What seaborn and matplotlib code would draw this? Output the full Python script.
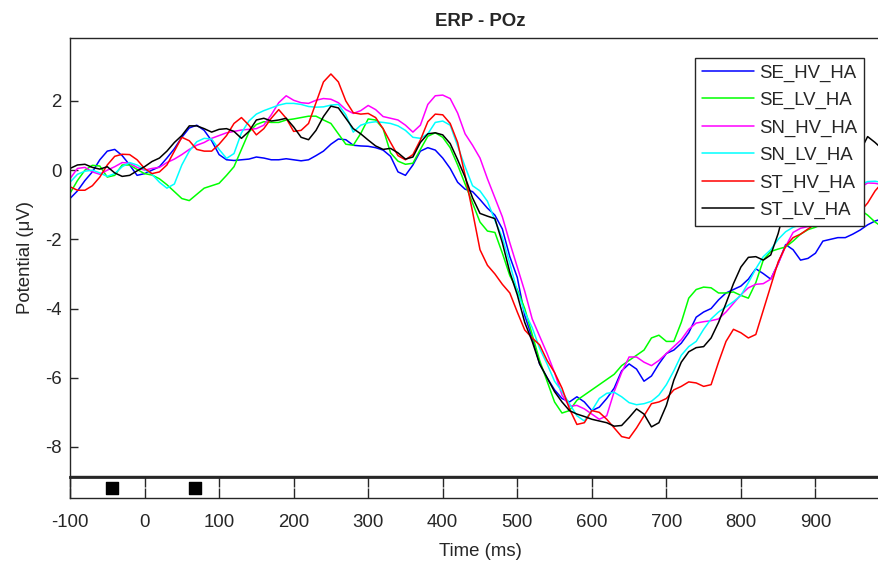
import pandas as pd
import matplotlib
matplotlib.use("Agg")
import matplotlib.pyplot as plt
import seaborn as sns

# time axis (ms), one sample every 10 ms
time_ms = list(range(-100, 1001, 10))

se_hv_ha = [-0.82, -0.60, -0.30, -0.05, 0.30, 0.55, 0.60, 0.42, 0.15, -0.15,
            -0.10, 0.00, 0.10, 0.35, 0.62, 0.95, 1.22, 1.30, 1.15, 0.85,
            0.45, 0.30, 0.28, 0.30, 0.32, 0.38, 0.35, 0.30, 0.30, 0.33,
            0.30, 0.27, 0.30, 0.42, 0.55, 0.75, 0.90, 0.88, 0.72, 0.70,
            0.69, 0.65, 0.58, 0.40, -0.05, -0.15, 0.15, 0.55, 0.65, 0.58,
            0.35, 0.05, -0.35, -0.55, -0.62, -0.85, -1.10, -1.30, -1.70, -2.50,
            -3.10, -4.20, -4.85, -5.60, -6.00, -6.35, -6.60, -6.70, -6.55, -6.70,
            -6.95, -6.85, -6.60, -6.30, -5.80, -5.60, -5.75, -6.10, -5.95, -5.60,
            -5.30, -5.20, -5.00, -4.70, -4.25, -4.10, -4.00, -3.75, -3.55, -3.45,
            -3.35, -3.15, -2.85, -2.99, -3.15, -2.70, -2.15, -2.30, -2.60, -2.55,
            -2.40, -2.05, -2.00, -1.95, -1.95, -1.85, -1.73, -1.58, -1.47, -1.40,
            -1.35]

se_lv_ha = [-0.67, -0.30, 0.00, 0.14, 0.12, -0.20, -0.15, 0.15, 0.15, 0.02,
            -0.10, -0.14, -0.25, -0.42, -0.62, -0.82, -0.88, -0.70, -0.52, -0.45,
            -0.38, -0.15, 0.10, 0.60, 1.10, 1.32, 1.40, 1.38, 1.38, 1.45,
            1.48, 1.52, 1.56, 1.56, 1.45, 1.35, 1.05, 0.75, 0.72, 1.06,
            1.48, 1.45, 1.20, 0.50, 0.26, 0.17, 0.20, 0.60, 0.98, 1.08,
            0.95, 0.65, 0.15, -0.40, -0.95, -1.50, -1.76, -1.80, -2.40, -3.05,
            -3.45, -4.00, -4.75, -5.50, -6.10, -6.70, -7.02, -6.95, -6.65, -6.50,
            -6.35, -6.20, -6.05, -5.90, -5.65, -5.50, -5.35, -5.20, -4.85, -4.77,
            -4.95, -4.95, -4.40, -3.70, -3.45, -3.38, -3.40, -3.55, -3.55, -3.52,
            -3.62, -3.70, -3.25, -2.60, -2.35, -2.28, -2.22, -2.05, -1.85, -1.72,
            -1.65, -1.55, -1.50, -1.45, -1.40, -1.30, -1.15, -1.30, -1.50, -1.65,
            -1.75]

sn_hv_ha = [-0.25, 0.05, 0.08, -0.05, -0.12, 0.00, 0.10, 0.22, 0.20, 0.08,
            0.00, 0.05, 0.08, 0.22, 0.32, 0.45, 0.60, 0.72, 0.80, 0.92,
            1.00, 1.08, 1.12, 1.16, 1.18, 1.20, 1.30, 1.60, 1.95, 2.15,
            2.02, 1.95, 1.93, 2.02, 2.07, 2.05, 1.95, 1.75, 1.64, 1.72,
            1.87, 1.75, 1.55, 1.50, 1.45, 1.30, 1.10, 1.30, 1.90, 2.15,
            2.17, 2.07, 1.65, 1.05, 0.72, 0.35, -0.25, -0.80, -1.35, -2.10,
            -2.80, -3.50, -4.30, -4.80, -5.30, -5.85, -6.50, -6.82, -6.80, -6.90,
            -7.05, -7.20, -7.10, -6.40, -5.85, -5.40, -5.40, -5.55, -5.65, -5.50,
            -5.30, -5.10, -4.90, -4.60, -4.42, -4.38, -4.35, -4.30, -4.10, -3.85,
            -3.60, -3.40, -3.30, -3.28, -3.15, -2.70, -2.20, -1.80, -1.68, -1.63,
            -1.58, -1.54, -1.50, -1.35, -1.15, -0.80, -0.50, -0.37, -0.38, -0.42,
            -0.45]

sn_lv_ha = [-0.35, -0.12, -0.03, 0.00, -0.08, -0.18, -0.10, 0.10, 0.22, 0.15,
            0.02, -0.12, -0.35, -0.52, -0.40, 0.15, 0.55, 0.82, 0.92, 0.90,
            0.60, 0.34, 0.48, 1.08, 1.42, 1.62, 1.72, 1.80, 1.88, 1.93,
            1.93, 1.90, 1.84, 1.82, 1.83, 1.88, 1.90, 1.60, 1.10, 1.30,
            1.37, 1.40, 1.38, 1.35, 1.28, 1.15, 0.95, 0.92, 1.05, 1.38,
            1.42, 1.30, 0.70, 0.10, -0.45, -0.60, -0.90, -1.45, -1.95, -2.70,
            -3.50, -4.10, -4.55, -5.15, -5.60, -6.10, -6.40, -6.75, -7.10, -7.25,
            -6.95, -6.60, -6.45, -6.42, -6.55, -6.72, -6.78, -6.75, -6.68, -6.50,
            -6.20, -5.80, -5.35, -5.10, -4.95, -4.60, -4.30, -4.10, -3.95, -3.80,
            -3.62, -3.25, -2.85, -2.50, -2.30, -2.00, -1.78, -1.65, -1.58, -1.52,
            -1.47, -1.42, -1.30, -1.15, -0.95, -0.65, -0.42, -0.33, -0.32, -0.36,
            -0.40]

st_hv_ha = [-0.48, -0.58, -0.58, -0.45, -0.20, 0.15, 0.40, 0.46, 0.45, 0.30,
            0.05, -0.10, -0.05, 0.15, 0.55, 0.95, 0.85, 0.60, 0.55, 0.55,
            0.75, 1.00, 1.35, 1.52, 1.30, 1.02, 1.20, 1.50, 1.75, 1.50,
            1.12, 1.15, 1.35, 1.95, 2.55, 2.78, 2.55, 2.00, 1.66, 1.62,
            1.64, 1.52, 1.20, 0.80, 0.42, 0.30, 0.45, 0.87, 1.40, 1.62,
            1.60, 1.35, 0.80, -0.15, -1.20, -2.30, -2.75, -3.00, -3.30, -3.55,
            -4.10, -4.62, -4.85, -5.05, -5.50, -5.85, -6.30, -6.90, -7.35, -7.30,
            -6.95, -7.00, -7.20, -7.45, -7.70, -7.75, -7.45, -7.10, -6.75, -6.70,
            -6.60, -6.35, -6.25, -6.12, -6.15, -6.25, -6.20, -5.55, -4.95, -4.60,
            -4.70, -4.85, -4.75, -4.05, -3.35, -2.65, -2.20, -1.95, -1.85, -1.70,
            -1.55, -1.50, -1.42, -1.40, -1.35, -1.30, -1.20, -0.95, -0.60, -0.35,
            -0.20]

st_lv_ha = [0.05, 0.15, 0.17, 0.08, 0.03, 0.10, -0.08, -0.18, -0.15, -0.02,
            0.10, 0.25, 0.35, 0.55, 0.80, 1.00, 1.28, 1.28, 1.20, 1.10,
            1.18, 1.20, 1.12, 0.92, 1.12, 1.45, 1.50, 1.42, 1.45, 1.50,
            1.25, 0.95, 0.88, 1.15, 1.55, 1.85, 1.80, 1.50, 1.20, 1.05,
            0.87, 0.70, 0.60, 0.63, 0.50, 0.32, 0.38, 0.80, 1.05, 1.08,
            1.02, 0.77, 0.30, -0.20, -0.80, -1.25, -1.33, -1.40, -2.10, -2.95,
            -3.60, -4.40, -4.95, -5.60, -6.00, -6.40, -6.70, -6.95, -7.05, -7.12,
            -7.20, -7.25, -7.30, -7.40, -7.38, -7.15, -6.90, -7.05, -7.42, -7.30,
            -6.80, -6.07, -5.55, -5.25, -5.13, -5.10, -4.85, -4.40, -3.85, -3.28,
            -2.80, -2.52, -2.50, -2.60, -2.45, -1.83, -1.00, -0.60, -0.40, -0.25,
            -0.10, 0.00, 0.10, 0.15, 0.25, 0.40, 0.55, 0.97, 0.80, 0.60,
            0.35]

conditions = ["SE_HV_HA", "SE_LV_HA", "SN_HV_HA", "SN_LV_HA", "ST_HV_HA", "ST_LV_HA"]
line_colors = ["#0000ff", "#00ff00", "#ff00ff", "#00ffff", "#ff0000", "#000000"]
event_times = [-43, 68]

sns.set_style("white")
plt.rcParams["font.family"] = ["Liberation Sans", "DejaVu Sans"]
plt.rcParams["axes.unicode_minus"] = False
axis_gray = "#262626"

series = [se_hv_ha, se_lv_ha, sn_hv_ha, sn_lv_ha, st_hv_ha, st_lv_ha]
df = pd.concat(
    [pd.DataFrame({"Time": time_ms, "Potential": vals, "Condition": name})
     for name, vals in zip(conditions, series)],
    ignore_index=True,
)

fig = plt.figure(figsize=(8.79, 5.64), dpi=100)
W, H = 879, 564
ax = fig.add_axes([70 / W, 1 - 476 / H, 820 / W, 438 / H])
strip = fig.add_axes([70 / W, 1 - 498 / H, 820 / W, 21 / H])

sns.lineplot(data=df, x="Time", y="Potential", hue="Condition",
             hue_order=conditions, palette=dict(zip(conditions, line_colors)),
             estimator=None, linewidth=1.1, ax=ax)

ax.set_xlim(-100, 1000)
ax.set_ylim(-8.84, 3.82)
ax.set_xticks([])
ax.set_yticks([-8, -6, -4, -2, 0, 2])
ax.tick_params(axis="y", direction="in", length=6, width=1, labelsize=13.4,
               colors=axis_gray, left=True, pad=6)
ax.set_xlabel("")
ax.set_ylabel("Potential (\u03bcV)", fontsize=13.4, color=axis_gray, labelpad=8)
ax.set_title("ERP - POz", fontweight="bold", fontsize=13.4, pad=9)
for s in ax.spines.values():
    s.set_color(axis_gray)
    s.set_linewidth(1)

ax.legend(loc="upper right", bbox_to_anchor=(864 / W, 1 - 58 / H),
          bbox_transform=fig.transFigure, fontsize=13.4, frameon=True,
          fancybox=False, edgecolor=axis_gray, framealpha=1,
          handlelength=2.8, handletextpad=0.3, labelspacing=0.55,
          borderpad=0.35, borderaxespad=0)
ax.get_legend().get_frame().set_linewidth(1)

# event strip under the waveforms
strip.scatter(event_times, [0.5] * len(event_times), marker="s", s=70,
              color="black", zorder=3)
strip.set_xlim(-100, 1000)
strip.set_ylim(0, 1)
strip.set_yticks([])
strip.set_xticks(range(-100, 901, 100))
strip.tick_params(axis="x", direction="in", length=7, width=1, top=True,
                  bottom=True, labelsize=13.4, colors=axis_gray, pad=11.5)
strip.set_xlabel("Time (ms)", fontsize=13.4, color=axis_gray, labelpad=9)
for s in strip.spines.values():
    s.set_color(axis_gray)
    s.set_linewidth(1)
strip.spines["top"].set_linewidth(2)

fig.savefig("out.png", dpi=100)
